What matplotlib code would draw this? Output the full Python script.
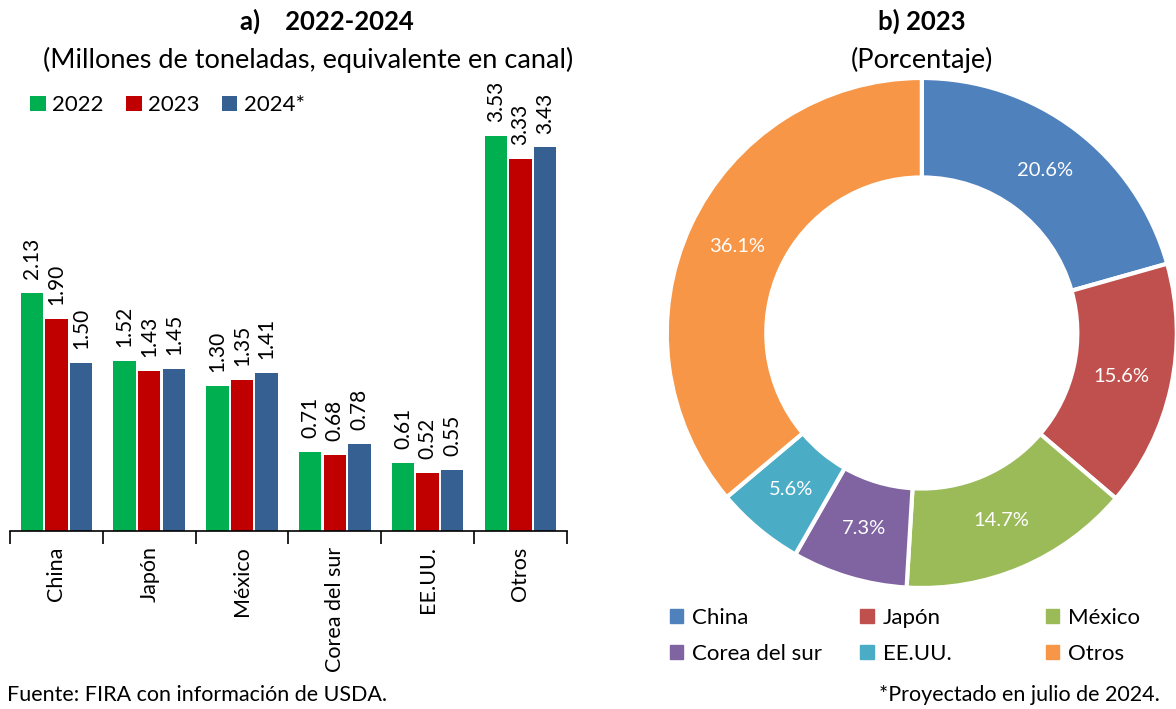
import numpy as np
import matplotlib.pyplot as plt
from matplotlib.patches import Patch

plt.rcParams['font.family'] = ['Lato', 'DejaVu Sans']

# data
paises = ['China', 'Japón', 'México', 'Corea del sur', 'EE.UU.', 'Otros']
anios = ['2022', '2023', '2024*']
v2022 = [2.13, 1.52, 1.30, 0.71, 0.61, 3.53]
v2023 = [1.90, 1.43, 1.35, 0.68, 0.52, 3.33]
v2024 = [1.50, 1.45, 1.41, 0.78, 0.55, 3.43]
pct2023 = [20.6, 15.6, 14.7, 7.3, 5.6, 36.1]

col_bar = ['#00B050', '#C00000', '#376092']
col_pie = ['#4F81BD', '#C0504D', '#9BBB59', '#8064A2', '#4BACC6', '#F79646']

fig = plt.figure(figsize=(11.76, 7.09), dpi=100)

# ---- a) barras
ax = fig.add_axes([0.0085, 0.251, 0.4735, 0.612])
x = np.arange(len(paises))
w = 0.24
for i, vals in enumerate([v2022, v2023, v2024]):
    bars = ax.bar(x + (i - 1) * 0.265, vals, w, color=col_bar[i], label=anios[i])
    for b, v in zip(bars, vals):
        ax.annotate(f'{v:.2f}', (b.get_x() + b.get_width() / 2, v),
                    xytext=(0, 10), textcoords='offset points',
                    rotation=90, ha='center', va='bottom', fontsize=15)

ax.set_xlim(-0.5, 5.5)
ax.set_ylim(0, 3.88)
for s in ['top', 'right', 'left']:
    ax.spines[s].set_visible(False)
ax.spines['bottom'].set_linewidth(1.2)
ax.set_yticks([])
ax.set_xticks(np.arange(-0.5, 6, 1))
ax.set_xticklabels([])
ax.tick_params(axis='x', which='major', length=9, width=1.2, direction='out')
ax.set_xticks(x, minor=True)
ax.set_xticklabels(paises, minor=True, rotation=90, fontsize=15.5)
ax.tick_params(axis='x', which='minor', length=0, pad=11)

ax.legend(loc='upper left', bbox_to_anchor=(0.02, 1.025), ncol=3, frameon=False,
          fontsize=16, handlelength=0.7, handleheight=0.7, handletextpad=0.3,
          columnspacing=1.0, borderaxespad=0)

fig.text(0.278, 0.970, 'a)    2022-2024', ha='center', va='center',
         fontsize=18.5, fontweight='bold')
fig.text(0.262, 0.915, '(Millones de toneladas, equivalente en canal)',
         ha='center', va='center', fontsize=19.5)

# ---- b) dona
ax2 = fig.add_axes([0.567, 0.1707, 0.4337, 0.7193])
wedges, _, autot = ax2.pie(pct2023, colors=col_pie, startangle=90, counterclock=False,
                           autopct='%.1f%%', pctdistance=0.8,
                           wedgeprops=dict(width=0.39, edgecolor='white', linewidth=3))
for t in autot:
    t.set_color('white')
    t.set_fontsize(14.5)
ax2.set_xlim(-1, 1)
ax2.set_ylim(-1, 1)
ax2.set_aspect('equal')

fig.text(0.784, 0.970, 'b) 2023', ha='center', va='center', fontsize=18.5, fontweight='bold')
fig.text(0.784, 0.915, '(Porcentaje)', ha='center', va='center', fontsize=19.5)

# leyenda de la dona: una columna por leyenda
columnas = [[0, 3], [1, 4], [2, 5]]
xcol = [0.562, 0.724, 0.882]
for xc, idx in zip(xcol, columnas):
    hs = [Patch(color=col_pie[i]) for i in idx]
    ls = [paises[i] for i in idx]
    leg = fig.legend(hs, ls, loc='upper left', bbox_to_anchor=(xc, 0.155), ncol=1,
                     frameon=False, fontsize=16, handlelength=0.6, handleheight=0.6,
                     handletextpad=0.4, labelspacing=0.7, borderaxespad=0)

fig.text(0.006, 0.020, 'Fuente: FIRA con información de USDA.', ha='left', va='center', fontsize=15.5)
fig.text(0.986, 0.020, '*Proyectado en julio de 2024.', ha='right', va='center', fontsize=15.5)

fig.savefig('out.png', dpi=100)
